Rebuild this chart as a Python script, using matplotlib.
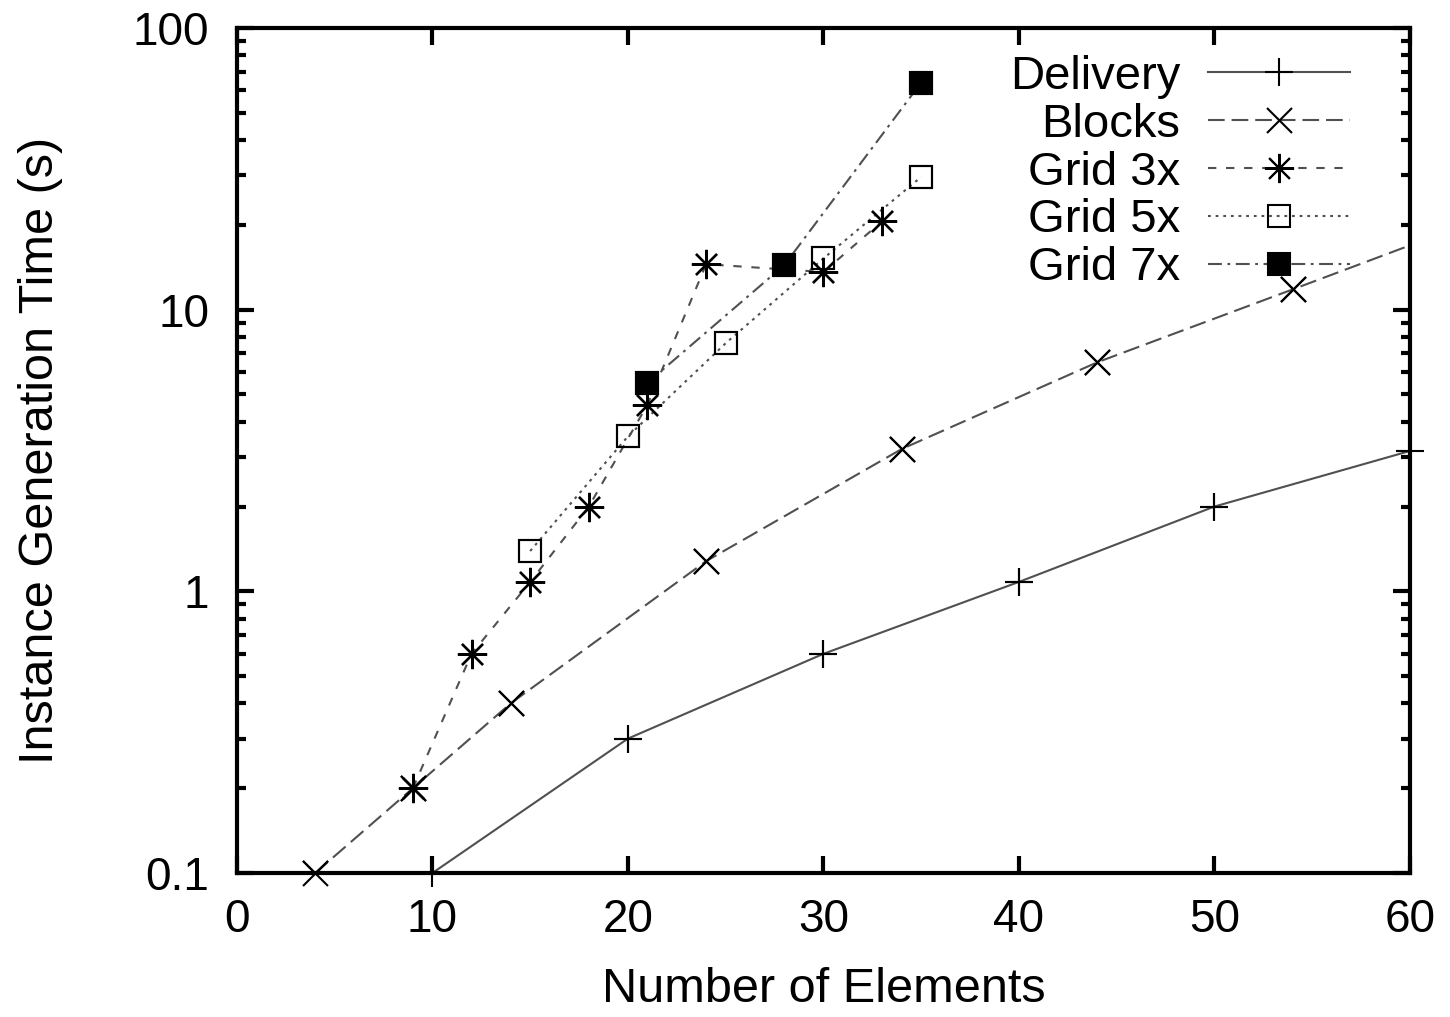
import matplotlib
matplotlib.use('Agg')
import matplotlib.pyplot as plt
import matplotlib.ticker as mticker
import numpy as np

plt.rcParams['font.family'] = ['Liberation Sans', 'DejaVu Sans']
plt.rcParams['lines.scale_dashes'] = False

# data
delivery_x = [10, 20, 30, 40, 50, 60]
delivery_y = [0.1, 0.3, 0.6, 1.08, 2.0, 3.15]

blocks_x = [4, 9, 14, 24, 34, 44, 54, 64]
blocks_y = [0.1, 0.2, 0.4, 1.28, 3.2, 6.5, 11.8, 21.5]

grid3_x = [9, 12, 15, 18, 21, 24, 30, 33]
grid3_y = [0.2, 0.6, 1.08, 2.0, 4.6, 14.5, 13.6, 20.6]

grid5_x = [15, 20, 25, 30, 35]
grid5_y = [1.39, 3.55, 7.6, 15.2, 29.6]

grid7_x = [21, 28, 35]
grid7_y = [5.5, 14.4, 64]

series = [
    ('Delivery', delivery_x, delivery_y, '-', '+', 'none', 20),
    ('Blocks', blocks_x, blocks_y, (0, (12, 5)), 'x', 'none', 18),
    ('Grid 3x', grid3_x, grid3_y, (0, (6, 7)), (8, 2, 0), 'none', 21),
    ('Grid 5x', grid5_x, grid5_y, (0, (2, 3.5)), 's', 'none', 16),
    ('Grid 7x', grid7_x, grid7_y, (0, (10, 4, 2, 4)), 's', 'black', 16),
]

xmin, xmax = 0, 60

fig = plt.figure(figsize=(14.5, 10.17), dpi=100)
ax = fig.add_axes([0.1634, 0.1416, 0.809, 0.8309])

for name, xs, ys, ls, mk, fc, ms in series:
    ax.plot(xs, ys, linestyle=ls, color='#505050', linewidth=1.5,
            marker=mk, markersize=ms, markerfacecolor=fc,
            markeredgecolor='black', markeredgewidth=1.5, label=name)
    # markers on the border are not clipped
    xs_a = np.array(xs)
    ys_a = np.array(ys)
    keep = (xs_a >= xmin) & (xs_a <= xmax)
    ax.plot(xs_a[keep], ys_a[keep], linestyle='none', marker=mk,
            markersize=ms, markerfacecolor=fc, markeredgecolor='black',
            markeredgewidth=1.5, clip_on=False, zorder=5)

ax.set_yscale('log')
ax.set_xlim(xmin, xmax)
ax.set_ylim(0.1, 100)
ax.set_xticks([0, 10, 20, 30, 40, 50, 60])
ax.set_yticks([0.1, 1, 10, 100])
ax.yaxis.set_major_formatter(mticker.FuncFormatter(lambda v, p: '%g' % v))
ax.yaxis.set_minor_locator(mticker.LogLocator(base=10, subs=np.arange(2, 10)))
ax.yaxis.set_minor_formatter(mticker.NullFormatter())

for s in ax.spines.values():
    s.set_linewidth(3)

ax.tick_params(axis='both', which='major', direction='in', length=12, width=3,
               top=True, right=True, labelsize=33)
ax.tick_params(axis='both', which='minor', direction='in', length=6.5, width=3,
               top=True, right=True)
ax.tick_params(axis='x', which='major', pad=18)
ax.tick_params(axis='y', which='major', pad=20)

ax.set_xlabel('Number of Elements', fontsize=35, labelpad=18)
ax.set_ylabel('Instance Generation Time (s)', fontsize=35, labelpad=50)

ax.legend(loc='upper right', bbox_to_anchor=(0.949, 0.968), frameon=False,
          markerfirst=False, fontsize=34, handlelength=3.0, handletextpad=0.6,
          labelspacing=0.08, borderpad=0, borderaxespad=0, numpoints=1)

fig.savefig('out.png', dpi=100)
